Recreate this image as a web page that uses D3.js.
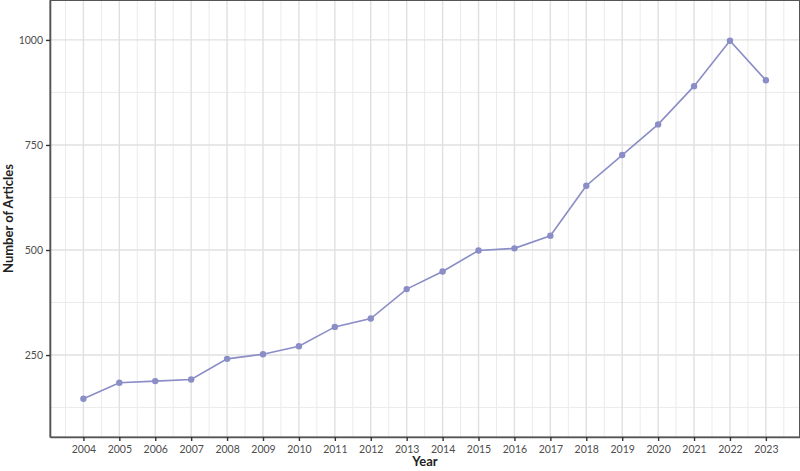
<!DOCTYPE html>
<html>
<head>
<meta charset="utf-8">
<script src="https://cdn.jsdelivr.net/npm/d3@7"></script>
<style>
    body { margin: 0; background: #fff; }
    text { font-family: Lato, "Open Sans", sans-serif; }
</style>
</head>
<body>
<svg id="chart" width="800" height="471"></svg>
<script>
// data
const years    = [2004, 2005, 2006, 2007, 2008, 2009, 2010, 2011, 2012, 2013,
                  2014, 2015, 2016, 2017, 2018, 2019, 2020, 2021, 2022, 2023];
const articles = [146, 184, 188, 192, 241, 252, 271, 317, 337, 407,
                  449, 499, 504, 534, 653, 726, 799, 890, 998, 904];
const yTicks   = [250, 500, 750, 1000];
const yMinor   = [125, 375, 625, 875];

const margin = {top: 0, right: 0, bottom: 34, left: 50};
const width  = 800 - margin.left - margin.right;
const height = 471 - margin.top - margin.bottom;

const svg = d3.select("#chart");
const g = svg.append("g")
    .attr("transform", "translate(" + margin.left + "," + margin.top + ")");

const x = d3.scaleLinear().domain([2003.07, 2023.95]).range([0, width]);
const y = d3.scaleLinear().domain([55, 1095]).range([height, 0]);

// minor grid
g.selectAll(".vminor").data(years.concat([2003]))
    .enter().append("line")
    .attr("x1", d => x(d + 0.5)).attr("x2", d => x(d + 0.5))
    .attr("y1", 0).attr("y2", height)
    .attr("stroke", "#ebebeb").attr("stroke-width", 1);
g.selectAll(".hminor").data(yMinor)
    .enter().append("line")
    .attr("x1", 0).attr("x2", width)
    .attr("y1", d => y(d)).attr("y2", d => y(d))
    .attr("stroke", "#ebebeb").attr("stroke-width", 1);

// major grid
g.selectAll(".vmajor").data(years)
    .enter().append("line")
    .attr("x1", d => x(d)).attr("x2", d => x(d))
    .attr("y1", 0).attr("y2", height)
    .attr("stroke", "#e0e0e0").attr("stroke-width", 1.4);
g.selectAll(".hmajor").data(yTicks)
    .enter().append("line")
    .attr("x1", 0).attr("x2", width)
    .attr("y1", d => y(d)).attr("y2", d => y(d))
    .attr("stroke", "#e0e0e0").attr("stroke-width", 1.4);

// panel border
g.append("rect")
    .attr("x", 0).attr("y", 0.5)
    .attr("width", width - 0.5).attr("height", height - 0.5)
    .attr("fill", "none").attr("stroke", "#555").attr("stroke-width", 1);

// axes
const xAxis = d3.axisBottom(x).tickValues(years).tickFormat(d3.format("d"))
    .tickSize(4).tickSizeOuter(0);
const yAxis = d3.axisLeft(y).tickValues(yTicks).tickFormat(d3.format("d"))
    .tickSize(4).tickSizeOuter(0);

const gx = g.append("g").attr("transform", "translate(0," + height + ")").call(xAxis);
const gy = g.append("g").call(yAxis);
[gx, gy].forEach(a => {
    a.select(".domain").attr("stroke", "#555").attr("stroke-width", 1.6);
    a.selectAll(".tick line").attr("stroke", "#333").attr("stroke-width", 1.4);
    a.selectAll(".tick text").attr("fill", "#4d4d4d")
        .style("font-size", "10.5px");
});
gx.selectAll(".tick text").attr("dy", "0.9em");

// line + points
const line = d3.line().x((d, i) => x(years[i])).y(d => y(d));
g.append("path").datum(articles)
    .attr("d", line)
    .attr("fill", "none")
    .attr("stroke", "#8a8dc6")
    .attr("stroke-width", 1.6);
g.selectAll(".pt").data(articles)
    .enter().append("circle")
    .attr("cx", (d, i) => x(years[i]))
    .attr("cy", d => y(d))
    .attr("r", 3.2)
    .attr("fill", "#8a8dc6");

// axis titles
svg.append("text")
    .attr("x", margin.left + width / 2).attr("y", 466)
    .attr("text-anchor", "middle")
    .style("font-size", "13px").style("font-weight", "bold")
    .attr("fill", "#222")
    .text("Year");
svg.append("text")
    .attr("transform", "rotate(-90)")
    .attr("x", -(margin.top + height / 2)).attr("y", 13)
    .attr("text-anchor", "middle")
    .style("font-size", "13px").style("font-weight", "bold")
    .attr("fill", "#222")
    .text("Number of Articles");
</script>
</body>
</html>
